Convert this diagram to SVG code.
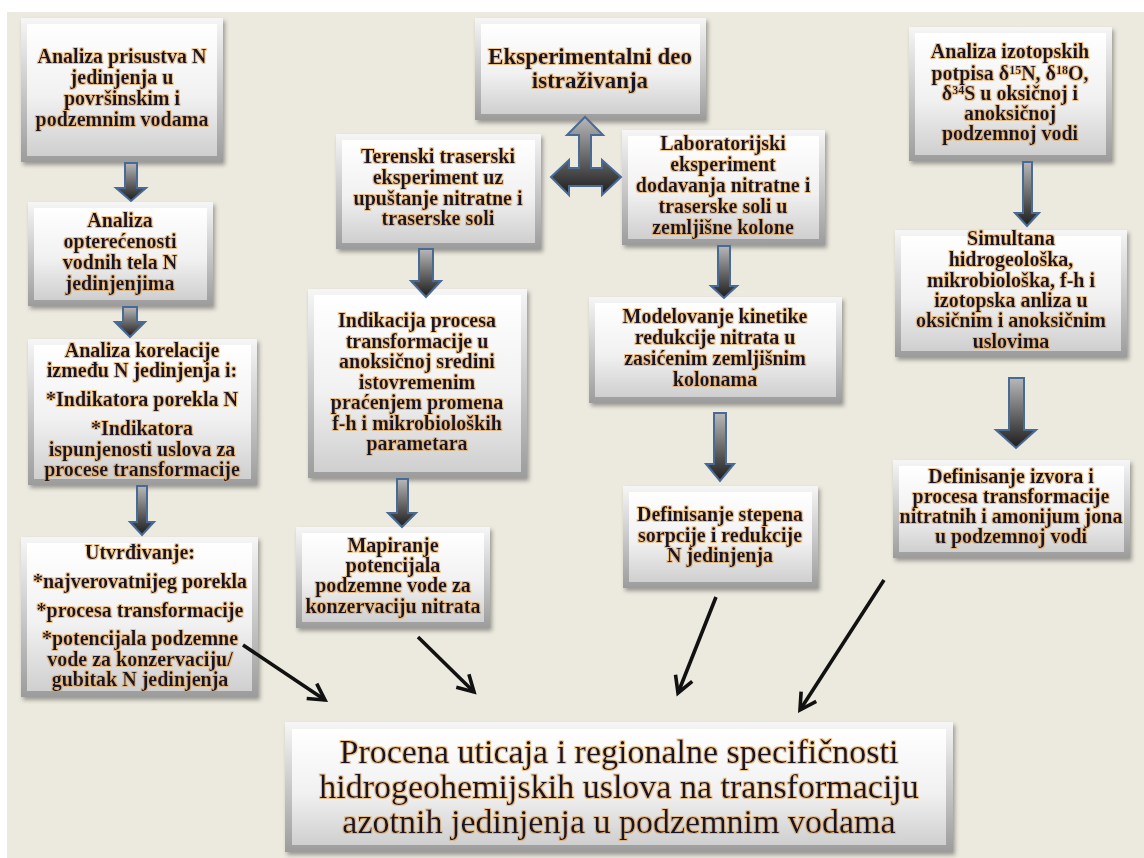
<svg xmlns="http://www.w3.org/2000/svg" width="1144" height="858" viewBox="0 0 1144 858">
<defs>
<linearGradient id="og" x1="0" y1="0" x2="0" y2="1"><stop offset="0" stop-color="#f6f6f6"/><stop offset="1" stop-color="#9c9c9c"/></linearGradient>
<linearGradient id="fg" x1="0" y1="0" x2="0" y2="1"><stop offset="0" stop-color="#ffffff"/><stop offset="0.55" stop-color="#f1f1f1"/><stop offset="1" stop-color="#cfcfcf"/></linearGradient>
<linearGradient id="ag" x1="0" y1="0" x2="0" y2="1"><stop offset="0" stop-color="#b8b8b8"/><stop offset="1" stop-color="#1c1c1c"/></linearGradient>
<filter id="sh" x="-10%" y="-10%" width="125%" height="130%"><feDropShadow dx="2" dy="3" stdDeviation="2" flood-color="#000" flood-opacity="0.35"/></filter>
<filter id="glow" x="-5%" y="-20%" width="110%" height="140%">
<feMorphology in="SourceAlpha" operator="dilate" radius="0.6" result="d"/>
<feGaussianBlur in="d" stdDeviation="0.6" result="b"/>
<feFlood flood-color="#E39A3A" flood-opacity="0.55"/>
<feComposite in2="b" operator="in" result="g"/>
<feMerge><feMergeNode in="g"/><feMergeNode in="SourceGraphic"/></feMerge>
</filter>
<marker id="ah" viewBox="0 0 24 24" refX="20" refY="12" markerWidth="24" markerHeight="24" markerUnits="userSpaceOnUse" orient="auto"><path d="M4,3 L20,12 L4,21" fill="none" stroke="#111" stroke-width="3.6"/></marker>
<style>
.bx{fill:url(#og);filter:url(#sh)}
.fc{fill:url(#fg)}
.t{font-family:"Liberation Serif","Times New Roman",serif;font-weight:bold;font-size:20px;fill:#14142a;text-anchor:middle;filter:url(#glow)}
.big{font-weight:normal;font-size:34px}
.sup{font-size:12px}
.ba{fill:url(#ag);stroke:#4a6a96;stroke-width:2;stroke-linejoin:miter}
.ln{stroke:#111;stroke-width:3.6;fill:none;marker-end:url(#ah)}
</style>
</defs>
<rect x="0" y="0" width="1144" height="858" fill="#ffffff"/>
<rect x="7" y="12" width="1137" height="846" fill="#ECEADF"/>

<g id="n1"><rect class="bx" x="21" y="18" width="202" height="144"/><rect class="fc" x="27" y="24" width="190" height="132"/>
<text class="t"><tspan x="122" y="63">Analiza prisustva N</tspan><tspan x="122" y="84">jedinjenja u</tspan><tspan x="122" y="105">površinskim i</tspan><tspan x="122" y="126">podzemnim vodama</tspan></text></g>

<g id="n2"><rect class="bx" x="28" y="202" width="185" height="104"/><rect class="fc" x="34" y="208" width="173" height="92"/>
<text class="t"><tspan x="120" y="227">Analiza</tspan><tspan x="120" y="248">opterećenosti</tspan><tspan x="120" y="269">vodnih tela N</tspan><tspan x="120" y="290">jedinjenjima</tspan></text></g>

<g id="n3"><rect class="bx" x="28" y="339" width="229" height="146"/><rect class="fc" x="34" y="345" width="217" height="134"/>
<text class="t"><tspan x="142" y="357">Analiza korelacije</tspan><tspan x="142" y="377">između N jedinjenja i:</tspan><tspan x="142" y="406">*Indikatora porekla N</tspan><tspan x="142" y="435">*Indikatora</tspan><tspan x="142" y="456">ispunjenosti uslova za</tspan><tspan x="142" y="476">procese transformacije</tspan></text></g>

<g id="n4"><rect class="bx" x="21" y="537" width="237" height="160"/><rect class="fc" x="27" y="543" width="225" height="148"/>
<text class="t"><tspan x="140" y="559">Utvrđivanje:</tspan><tspan x="140" y="588">*najverovatnijeg porekla</tspan><tspan x="140" y="617">*procesa transformacije</tspan><tspan x="140" y="645">*potencijala podzemne</tspan><tspan x="140" y="666">vode za konzervaciju/</tspan><tspan x="140" y="686">gubitak N jedinjenja</tspan></text></g>

<g id="n5"><rect class="bx" x="475" y="18" width="231" height="102"/><rect class="fc" x="481" y="24" width="219" height="90"/>
<text class="t" style="font-size:23px"><tspan x="590" y="64">Eksperimentalni deo</tspan><tspan x="590" y="88">istraživanja</tspan></text></g>

<g id="n6"><rect class="bx" x="336" y="134" width="205" height="115"/><rect class="fc" x="342" y="140" width="193" height="103"/>
<text class="t"><tspan x="438" y="163">Terenski traserski</tspan><tspan x="438" y="184">eksperiment uz</tspan><tspan x="438" y="205">upuštanje nitratne i</tspan><tspan x="438" y="225">traserske soli</tspan></text></g>

<g id="n7"><rect class="bx" x="622" y="130" width="203" height="115"/><rect class="fc" x="628" y="136" width="191" height="103"/>
<text class="t"><tspan x="723" y="150">Laboratorijski</tspan><tspan x="723" y="171">eksperiment</tspan><tspan x="723" y="192">dodavanja nitratne i</tspan><tspan x="723" y="213">traserske soli u</tspan><tspan x="723" y="234">zemljišne kolone</tspan></text></g>

<g id="n8"><rect class="bx" x="308" y="289" width="219" height="189"/><rect class="fc" x="314" y="295" width="207" height="177"/>
<text class="t"><tspan x="417" y="327">Indikacija procesa</tspan><tspan x="417" y="348">transformacije u</tspan><tspan x="417" y="368">anoksičnoj sredini</tspan><tspan x="417" y="389">istovremenim</tspan><tspan x="417" y="409">praćenjem promena</tspan><tspan x="417" y="430">f-h i mikrobioloških</tspan><tspan x="417" y="450">parametara</tspan></text></g>

<g id="n9"><rect class="bx" x="296" y="527" width="194" height="101"/><rect class="fc" x="302" y="533" width="182" height="89"/>
<text class="t"><tspan x="393" y="552">Mapiranje</tspan><tspan x="393" y="572">potencijala</tspan><tspan x="393" y="592">podzemne vode za</tspan><tspan x="393" y="613">konzervaciju nitrata</tspan></text></g>

<g id="n10"><rect class="bx" x="589" y="297" width="253" height="106"/><rect class="fc" x="595" y="303" width="241" height="94"/>
<text class="t"><tspan x="715" y="323">Modelovanje kinetike</tspan><tspan x="715" y="344">redukcije nitrata u</tspan><tspan x="715" y="365">zasićenim zemljišnim</tspan><tspan x="715" y="386">kolonama</tspan></text></g>

<g id="n11"><rect class="bx" x="623" y="486" width="195" height="102"/><rect class="fc" x="629" y="492" width="183" height="90"/>
<text class="t"><tspan x="720" y="521">Definisanje stepena</tspan><tspan x="720" y="542">sorpcije i redukcije</tspan><tspan x="720" y="562">N jedinjenja</tspan></text></g>

<g id="n12"><rect class="bx" x="909" y="27" width="203" height="134"/><rect class="fc" x="915" y="33" width="191" height="122"/>
<text class="t"><tspan x="1010" y="58">Analiza izotopskih</tspan><tspan x="1010" y="80">potpisa δ<tspan class="sup" dy="-6">15</tspan><tspan dy="6">N, δ</tspan><tspan class="sup" dy="-6">18</tspan><tspan dy="6">O,</tspan></tspan><tspan x="1010" y="100">δ<tspan class="sup" dy="-6">34</tspan><tspan dy="6">S u oksičnoj i</tspan></tspan><tspan x="1010" y="120">anoksičnoj</tspan><tspan x="1010" y="140">podzemnoj vodi</tspan></text></g>

<g id="n13"><rect class="bx" x="895" y="230" width="232" height="127"/><rect class="fc" x="901" y="236" width="220" height="115"/>
<text class="t"><tspan x="1011" y="245">Simultana</tspan><tspan x="1011" y="266">hidrogeološka,</tspan><tspan x="1011" y="287">mikrobiološka, f-h i</tspan><tspan x="1011" y="307">izotopska anliza u</tspan><tspan x="1011" y="327">oksičnim i anoksičnim</tspan><tspan x="1011" y="348">uslovima</tspan></text></g>

<g id="n14"><rect class="bx" x="893" y="460" width="237" height="98"/><rect class="fc" x="899" y="466" width="225" height="86"/>
<text class="t"><tspan x="1011" y="483">Definisanje izvora i</tspan><tspan x="1011" y="503">procesa transformacije</tspan><tspan x="1011" y="523">nitratnih i amonijum jona</tspan><tspan x="1011" y="543">u podzemnoj vodi</tspan></text></g>

<g id="n15"><rect class="bx" x="285" y="722" width="668" height="130"/><rect class="fc" x="292" y="729" width="654" height="116"/>
<text class="t big"><tspan x="619" y="763">Procena uticaja i regionalne specifičnosti</tspan><tspan x="619" y="798">hidrogeohemijskih uslova na transformaciju</tspan><tspan x="619" y="833">azotnih jedinjenja u podzemnim vodama</tspan></text></g>

<g id="connectors">
<path class="ba" d="M125,163 L137,163 L137,188 L146,188 L131,201 L116,188 L125,188 Z"/>
<path class="ba" d="M123,307 L137,307 L137,322 L145,322 L130,337 L115,322 L123,322 Z"/>
<path class="ba" d="M137,486 L147,486 L147,522 L154,522 L142,535 L130,522 L137,522 Z"/>
<path class="ba" d="M579,135 L567,135 L585,117 L603,135 L591,135 L591,168 L602,168 L602,160 L621,177 L602,195 L602,186 L569,186 L569,195 L551,177 L569,160 L569,168 L579,168 Z"/>
<path class="ba" d="M419,249 L433,249 L433,281 L441,281 L426,297 L411,281 L419,281 Z"/>
<path class="ba" d="M397,479 L408,479 L408,513 L416,513 L402,527 L388,513 L397,513 Z"/>
<path class="ba" d="M718,246 L730,246 L730,286 L737,286 L724,298 L711,286 L718,286 Z"/>
<path class="ba" d="M714,413 L726,413 L726,464 L734,464 L720,481 L706,464 L714,464 Z"/>
<path class="ba" d="M1023,162 L1032,162 L1032,213 L1039,213 L1027,226 L1015,213 L1023,213 Z"/>
<path class="ba" d="M1009,378 L1024,378 L1024,430 L1036,430 L1016,448 L996,430 L1009,430 Z"/>
<line class="ln" x1="243" y1="645" x2="325" y2="700"/>
<line class="ln" x1="418" y1="637" x2="474" y2="692"/>
<line class="ln" x1="716" y1="597" x2="678" y2="693"/>
<line class="ln" x1="884" y1="580" x2="800" y2="710"/>
</g>
</svg>
